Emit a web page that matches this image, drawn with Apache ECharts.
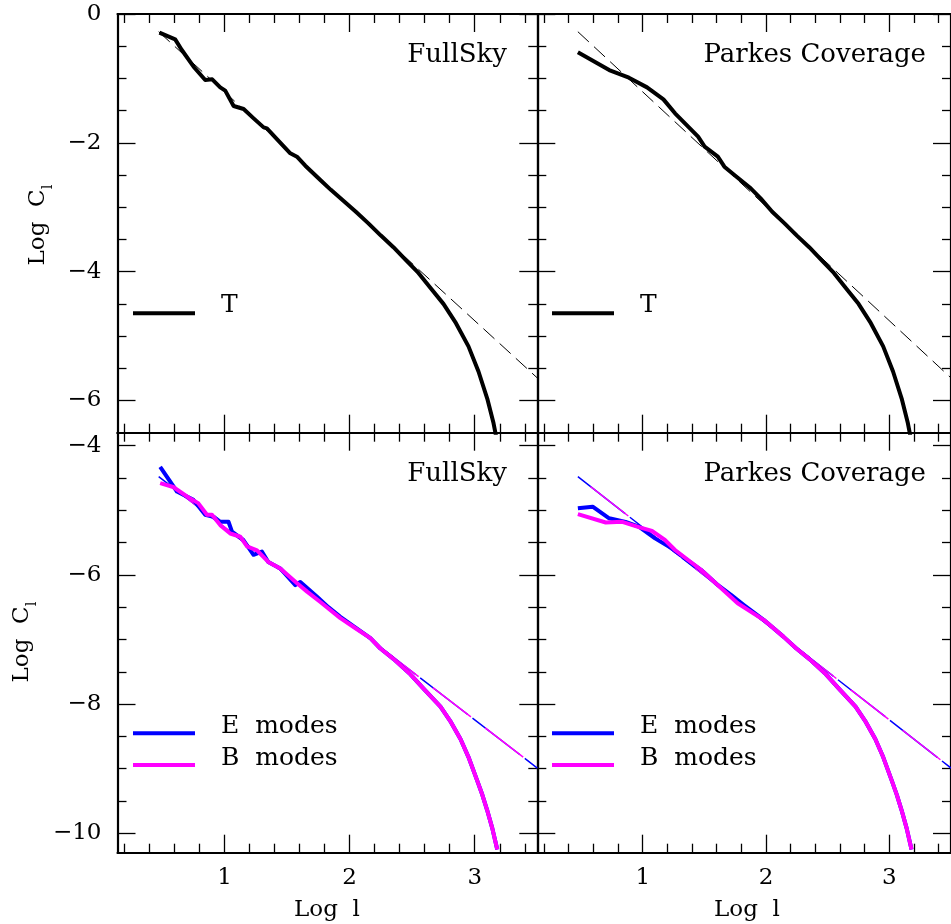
<!DOCTYPE html>
<html>
<head>
<meta charset="utf-8">
<script src="https://cdn.jsdelivr.net/npm/echarts@6/dist/echarts.min.js"></script>
<style>
html,body{margin:0;padding:0;background:#fff;}
#chart{width:951px;height:924px;}
</style>
</head>
<body>
<div id="chart"></div>
<script>
// ---------- tick values ----------
const xMajorTicks = [1, 2, 3];
const xMinorTicks = [0.2, 0.4, 0.6, 0.8, 1.2, 1.4, 1.6, 1.8, 2.2, 2.4, 2.6, 2.8, 3.2, 3.4];
const yMajorTop = [-6, -4, -2, 0];
const yMinorTop = [-5.5, -5, -4.5, -3.5, -3, -2.5, -1.5, -1, -0.5];
const yMajorBottom = [-10, -8, -6, -4];
const yMinorBottom = [-9.5, -9, -8.5, -7.5, -7, -6.5, -5.5, -5, -4.5];

// ---------- panel labels ----------
const panelTitles = ['FullSky', 'Parkes Coverage', 'FullSky', 'Parkes Coverage'];
const legendTop = ['T'];
const legendBottom = ['E  modes', 'B  modes'];

// ---------- data: temperature (top row) ----------
const tFullLow = [[0.48,-0.29],[0.606,-0.394],[0.659,-0.559],[0.753,-0.818],[0.846,-1.025],[0.902,-1.014],
  [0.966,-1.139],[1.006,-1.19],[1.073,-1.428],[1.153,-1.475],[1.233,-1.62],[1.313,-1.76],[1.339,-1.775],
  [1.406,-1.915],[1.526,-2.163],[1.579,-2.215],[1.646,-2.355],[1.766,-2.578],[1.85,-2.73],[1.95,-2.90]];
const tParkesLow = [[0.474,-0.595],[0.728,-0.87],[0.888,-0.989],[1.035,-1.139],[1.168,-1.325],[1.262,-1.542],
  [1.449,-1.905],[1.502,-2.06],[1.609,-2.215],[1.662,-2.37],[1.743,-2.5],[1.876,-2.707],[1.956,-2.862]];
const tHighL = [[2.05,-3.07],[2.15,-3.25],[2.25,-3.44],[2.35,-3.62],[2.45,-3.82],[2.55,-4.02],[2.65,-4.26],
  [2.75,-4.50],[2.85,-4.80],[2.95,-5.16],[3.03,-5.55],[3.10,-5.97],[3.15,-6.35],[3.175,-6.6]];
const tPowerLaw = [[0.474,-0.275],[3.5,-5.65]];

// ---------- data: polarisation (bottom row) ----------
const eFullLow = [[0.486,-4.33],[0.62,-4.71],[0.752,-4.84],[0.846,-5.07],[0.912,-5.10],[0.966,-5.18],
  [1.032,-5.178],[1.06,-5.33],[1.15,-5.46],[1.232,-5.69],[1.299,-5.64],[1.35,-5.80],[1.446,-5.90],
  [1.566,-6.16],[1.606,-6.11],[1.74,-6.34],[1.83,-6.50],[1.926,-6.65],[2.05,-6.82],[2.166,-6.98]];
const bFullLow = [[0.486,-4.58],[0.59,-4.64],[0.726,-4.82],[0.79,-4.89],[0.86,-5.07],[0.90,-5.07],
  [0.966,-5.23],[1.046,-5.36],[1.126,-5.41],[1.18,-5.56],[1.26,-5.62],[1.35,-5.80],[1.446,-5.90],
  [1.58,-6.13],[1.66,-6.26],[1.766,-6.42],[1.926,-6.67],[2.05,-6.83],[2.166,-6.98]];
const eParkesLow = [[0.474,-4.97],[0.594,-4.945],[0.728,-5.125],[0.861,-5.18],[0.968,-5.255],[1.10,-5.435],
  [1.235,-5.59],[1.342,-5.745],[1.475,-5.925],[1.61,-6.16],[1.716,-6.31],[1.823,-6.47],[1.983,-6.70],[2.143,-6.96]];
const bParkesLow = [[0.474,-5.06],[0.70,-5.19],[0.834,-5.18],[0.968,-5.26],[1.075,-5.32],[1.18,-5.46],
  [1.262,-5.615],[1.368,-5.77],[1.475,-5.925],[1.61,-6.16],[1.77,-6.44],[1.983,-6.70],[2.143,-6.96]];
const polHighL = [[2.246,-7.14],[2.35,-7.30],[2.486,-7.54],[2.6,-7.78],[2.726,-8.04],[2.81,-8.28],
  [2.886,-8.54],[2.95,-8.82],[3.019,-9.18],[3.06,-9.40],[3.099,-9.64],[3.14,-9.92],[3.18,-10.25]];
const polPowerLaw = [[0.474,-4.48],[3.5,-8.99]];

// ---------- layout ----------
const FONT = 'DejaVu Serif';
const X_MIN = 0.145, X_MAX = 3.5;
const panels = [
  {left:117.5, top:14,    height:418.7, ymin:-6.5,  ymax:0,    yMaj:yMajorTop,    yMin:yMinorTop,    yLab:true,  xLab:false},
  {left:537.3, top:14,    height:418.7, ymin:-6.5,  ymax:0,    yMaj:yMajorTop,    yMin:yMinorTop,    yLab:false, xLab:false},
  {left:117.5, top:432.7, height:420,   ymin:-10.3, ymax:-3.8, yMaj:yMajorBottom, yMin:yMinorBottom, yLab:true,  xLab:true},
  {left:537.3, top:432.7, height:420,   ymin:-10.3, ymax:-3.8, yMaj:yMajorBottom, yMin:yMinorBottom, yLab:false, xLab:true}
];
const PW = 419.8;
const axCol = '#000';
const fmt = v => String(v).replace('-', '\u2212');

const grid = [], xAxis = [], yAxis = [], series = [];
const mainX = [], mainY = [];
panels.forEach((p, gi) => {
  grid.push({left:p.left, top:p.top, width:PW, height:p.height, containLabel:false});
  ['bottom','top'].forEach(pos => {
    if (pos === 'bottom') mainX[gi] = xAxis.length;
    xAxis.push({gridIndex:gi, type:'value', position:pos, min:X_MIN, max:X_MAX,
      axisLine:{show:true, onZero:false, lineStyle:{color:axCol, width:2.2}},
      axisTick:{show:true, inside:true, length:18, customValues:xMajorTicks, lineStyle:{color:axCol, width:1.3}},
      axisLabel:{show: pos==='bottom' && p.xLab, customValues:xMajorTicks, margin:14,
        fontFamily:FONT, fontSize:23, color:'#000', formatter:fmt},
      splitLine:{show:false}});
    xAxis.push({gridIndex:gi, type:'value', position:pos, min:X_MIN, max:X_MAX,
      axisLine:{show:false, onZero:false},
      axisTick:{show:true, inside:true, length:9, customValues:xMinorTicks, lineStyle:{color:axCol, width:1.3}},
      axisLabel:{show:false}, splitLine:{show:false}});
  });
  ['left','right'].forEach(pos => {
    if (pos === 'left') mainY[gi] = yAxis.length;
    yAxis.push({gridIndex:gi, type:'value', position:pos, min:p.ymin, max:p.ymax,
      axisLine:{show:true, onZero:false, lineStyle:{color:axCol, width:2.2}},
      axisTick:{show:true, inside:true, length:18, customValues:p.yMaj, lineStyle:{color:axCol, width:1.3}},
      axisLabel:{show: pos==='left' && p.yLab, customValues:p.yMaj, margin:16,
        fontFamily:FONT, fontSize:23, color:'#000', formatter:fmt},
      splitLine:{show:false}});
    yAxis.push({gridIndex:gi, type:'value', position:pos, min:p.ymin, max:p.ymax,
      axisLine:{show:false, onZero:false},
      axisTick:{show:true, inside:true, length:9, customValues:p.yMin, lineStyle:{color:axCol, width:1.3}},
      axisLabel:{show:false}, splitLine:{show:false}});
  });
});

function addLine(gi, data, color, width, type, z, offset) {
  series.push({type:'line', xAxisIndex:mainX[gi], yAxisIndex:mainY[gi], data:data,
    showSymbol:false, symbol:'none', smooth:false, z:z, silent:true, animation:false,
    lineStyle:{color:color, width:width, type:type || 'solid', dashOffset:offset || 0, cap:'butt', join:'round'}});
}
// top row
addLine(0, tPowerLaw, '#000', 1, [15,7], 2);
addLine(0, tFullLow.concat(tHighL), '#000', 4, 'solid', 3);
addLine(1, tPowerLaw, '#000', 1, [15,7], 2);
addLine(1, tParkesLow.concat(tHighL), '#000', 4, 'solid', 3);
// bottom row
const BLUE = '#0000ff', MAG = '#ff00ff';
[[2, eFullLow, bFullLow], [3, eParkesLow, bParkesLow]].forEach(([gi, e, b]) => {
  addLine(gi, polPowerLaw, BLUE, 1.5, [60,6], 2);
  addLine(gi, polPowerLaw, MAG, 1.5, [48,18], 2, 50);
  addLine(gi, e.concat(polHighL), BLUE, 4, 'solid', 3);
  addLine(gi, b.concat(polHighL), MAG, 4, 'solid', 4);
});

// ---------- texts / legends ----------
const txt = (x, y, text, align, size, extra) => Object.assign({type:'text', x:x, y:y, silent:true,
  style:{text:text, fill:'#000', font:`${size}px "${FONT}"`, align:align, verticalAlign:'middle'}}, extra || {});
const graphic = [];
// panel titles
[[507,55],[926,55],[507,474],[926,474]].forEach((pt, i) => graphic.push(txt(pt[0], pt[1], panelTitles[i], 'right', 26)));
// top legends
[[133,221],[552,640]].forEach(([lx, tx]) => {
  graphic.push({type:'line', silent:true, shape:{x1:lx, y1:313.3, x2:lx+62, y2:313.3}, style:{stroke:'#000', lineWidth:4}});
  graphic.push(txt(tx, 305, legendTop[0], 'left', 25));
});
// bottom legends
[[133,221],[552,640]].forEach(([lx, tx]) => {
  graphic.push({type:'line', silent:true, shape:{x1:lx, y1:733.3, x2:lx+62, y2:733.3}, style:{stroke:BLUE, lineWidth:4}});
  graphic.push({type:'line', silent:true, shape:{x1:lx, y1:765, x2:lx+62, y2:765}, style:{stroke:MAG, lineWidth:4}});
  graphic.push(txt(tx, 726, legendBottom[0], 'left', 25));
  graphic.push(txt(tx, 758, legendBottom[1], 'left', 25));
});
// x axis names
[327, 747].forEach(cx => graphic.push(txt(cx, 910, 'Log  l', 'center', 23)));
// y axis names
[[38,225],[22,642]].forEach(([cx, cy]) => graphic.push({type:'text', x:cx, y:cy, rotation:Math.PI/2, silent:true,
  style:{text:'{a|Log  C}{s|l}', align:'center', verticalAlign:'middle', fill:'#000',
    rich:{a:{fontFamily:FONT, fontSize:23, lineHeight:36, verticalAlign:'middle', fill:'#000'},
          s:{fontFamily:FONT, fontSize:15, lineHeight:36, verticalAlign:'bottom', fill:'#000'}}}}));

const chart = echarts.init(document.getElementById('chart'), null, {renderer:'canvas'});
chart.setOption({animation:false, backgroundColor:'#fff', grid, xAxis, yAxis, series, graphic});
</script>
</body>
</html>
